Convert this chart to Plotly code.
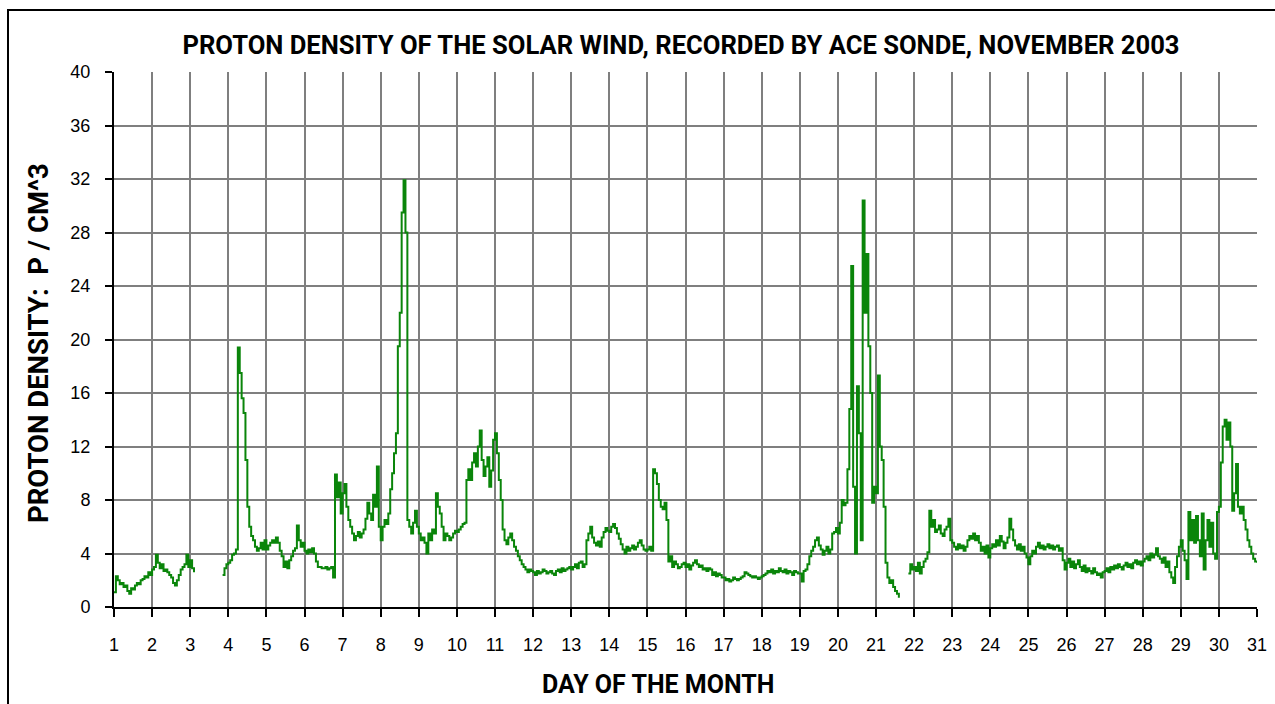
import plotly.graph_objects as go

# Proton density, 20 readings per day (0.05-day steps); None = data gap
day01 = [1.1, 2.3, 2.0, 1.7, 1.8, 1.5, 1.6, 1.2, 1.0, 1.4, 1.3, 1.6, 1.8, 1.7, 2.0, 2.1, 2.3, 2.2, 2.6, 2.4]
day02 = [2.8, 3.0, 3.9, 3.3, 2.9, 3.2, 2.7, 2.8, 2.6, 2.4, 2.2, 1.8, 1.6, 2.0, 2.4, 2.8, 3.0, 3.2, 3.9, 3.0]
day03 = [3.5, 2.9, 2.6, None, None, None, None, None, None, None, None, None, None, None, None, None, None, 2.4, 2.9, 3.2]
day04 = [3.3, 3.5, 3.9, 4.0, 4.3, 19.4, 17.5, 15.6, 14.5, 11.0, 7.5, 6.0, 5.3, 5.0, 4.5, 4.2, 4.4, 4.8, 4.3, 5.0]
day05 = [4.3, 4.6, 4.8, 5.0, 4.8, 5.2, 4.8, 4.2, 3.8, 3.0, 3.4, 2.9, 3.5, 3.8, 4.2, 4.4, 6.1, 5.0, 4.5, 4.8]
day06 = [4.2, 4.0, 4.3, 4.1, 4.4, 4.0, 3.4, 3.0, 3.0, 2.9, 2.9, 3.0, 2.8, 2.9, 3.0, 2.2, 9.9, 8.2, 9.3, 7.0]
day07 = [8.5, 9.2, 7.5, 6.5, 6.0, 5.5, 5.0, 5.3, 5.6, 5.2, 5.5, 5.8, 6.6, 7.8, 7.0, 6.5, 8.4, 7.5, 10.5, 6.0]
day08 = [5.0, 6.0, 6.5, 6.2, 7.0, 8.8, 10.0, 11.5, 13.0, 19.5, 22.0, 29.5, 31.9, 28.0, 6.5, 6.0, 5.5, 6.3, 7.2, 6.0]
day09 = [5.5, 5.0, 5.2, 4.8, 4.0, 5.5, 5.0, 5.8, 5.5, 8.5, 7.5, 7.0, 6.0, 5.0, 5.5, 5.3, 5.0, 5.2, 5.5, 5.7]
day10 = [5.6, 5.8, 6.0, 6.2, 6.3, 9.5, 10.3, 9.5, 10.8, 11.5, 10.5, 12.0, 13.2, 11.0, 9.8, 10.5, 11.2, 9.0, 10.2, 12.5]
day11 = [13.0, 11.5, 9.5, 8.0, 5.8, 5.0, 4.7, 5.2, 5.5, 5.0, 4.5, 4.2, 3.8, 3.5, 3.2, 3.0, 2.8, 2.6, 2.8, 2.7]
day12 = [2.6, 2.4, 2.7, 2.5, 2.6, 2.8, 2.7, 2.5, 2.6, 2.7, 2.5, 2.4, 2.7, 2.8, 2.6, 2.9, 2.7, 2.8, 2.9, 3.0]
day13 = [2.8, 3.0, 3.2, 2.9, 3.3, 3.4, 3.0, 3.2, 5.0, 5.5, 6.0, 5.2, 4.8, 4.6, 4.9, 4.5, 5.2, 5.6, 5.9, 5.7]
day14 = [5.6, 6.0, 6.2, 5.9, 5.5, 5.1, 4.7, 4.3, 4.0, 4.5, 4.2, 4.4, 4.6, 4.3, 4.5, 4.8, 5.0, 4.6, 4.3, 4.2]
day15 = [4.3, 4.5, 4.2, 10.3, 10.0, 9.2, 8.0, 7.5, 7.3, 7.8, 6.5, 3.4, 3.8, 3.0, 3.4, 3.2, 2.9, 3.0, 3.2, 3.3]
day16 = [3.0, 3.2, 2.8, 3.1, 3.3, 3.5, 3.2, 3.0, 3.1, 2.8, 2.9, 2.7, 2.9, 2.8, 2.4, 2.6, 2.3, 2.5, 2.4, 2.2]
day17 = [2.2, 2.0, 2.1, 1.9, 2.0, 2.2, 2.1, 2.0, 2.1, 2.2, 2.3, 2.6, 2.5, 2.4, 2.3, 2.2, 2.3, 2.2, 2.1, 2.2]
day18 = [2.3, 2.4, 2.5, 2.7, 2.6, 2.8, 2.5, 2.7, 2.6, 2.9, 2.7, 2.6, 2.8, 2.5, 2.7, 2.6, 2.4, 2.7, 2.6, 2.5]
day19 = [2.5, 1.9, 2.7, 2.8, 3.2, 3.8, 4.2, 4.5, 5.0, 5.2, 4.6, 4.3, 3.9, 4.2, 4.5, 4.0, 4.3, 5.5, 5.6, 5.9]
day20 = [5.5, 6.3, 8.0, 7.6, 7.8, 10.3, 14.8, 25.5, 9.0, 4.0, 16.5, 13.0, 5.0, 30.4, 22.0, 26.4, 19.5, 16.0, 7.8, 9.0]
day21 = [8.5, 17.3, 12.0, 11.0, 7.5, 3.3, 2.2, 1.8, 2.0, 1.5, 1.2, 1.0, 0.7, None, None, None, None, 2.5, 3.2, 2.8]
day22 = [3.0, 2.7, 3.3, 2.5, 3.0, 3.4, 3.6, 4.1, 7.2, 6.0, 6.5, 5.6, 5.8, 6.1, 5.5, 5.3, 5.8, 6.0, 6.6, 5.0]
day23 = [4.8, 4.5, 4.3, 4.7, 4.4, 4.6, 4.2, 4.5, 5.0, 5.3, 5.1, 5.5, 5.0, 5.3, 4.8, 4.2, 4.5, 4.0, 4.6, 3.7]
day24 = [4.4, 4.7, 4.5, 5.0, 4.6, 5.3, 4.9, 4.4, 4.8, 5.2, 6.6, 5.8, 5.0, 4.6, 4.3, 4.7, 4.2, 4.5, 4.0, 3.7]
day25 = [3.2, 3.8, 4.2, 4.0, 4.5, 4.8, 4.4, 4.6, 4.3, 4.5, 4.7, 4.4, 4.6, 4.3, 4.5, 4.6, 4.2, 4.4, 3.5, 2.8]
day26 = [3.3, 3.6, 3.0, 3.4, 2.9, 3.2, 3.5, 3.0, 2.7, 3.1, 2.6, 2.9, 2.7, 2.5, 2.9, 2.6, 2.4, 2.5, 2.2, 2.6]
day27 = [2.7, 2.9, 2.6, 3.0, 2.8, 3.1, 2.9, 3.2, 3.0, 2.8, 3.1, 3.3, 3.0, 3.2, 2.9, 3.3, 3.5, 3.2, 3.4, 3.1]
day28 = [3.4, 3.6, 3.8, 3.5, 4.0, 3.7, 3.9, 4.4, 3.8, 3.6, 3.3, 3.7, 3.0, 3.4, 2.6, 2.2, 1.8, 3.0, 3.8, 4.5]
day29 = [5.0, 4.2, 3.5, 2.1, 7.1, 5.0, 6.5, 4.8, 6.8, 5.0, 3.8, 7.0, 2.8, 5.0, 6.5, 4.5, 6.3, 4.0, 3.6, 7.1]
day30 = [7.5, 10.8, 13.5, 14.0, 12.5, 13.8, 12.0, 7.2, 8.5, 10.7, 7.5, 7.0, 7.5, 6.5, 5.8, 5.0, 4.5, 4.0, 3.6, 3.4]
day31_start = [3.3]

days = [day01, day02, day03, day04, day05, day06, day07, day08, day09, day10,
        day11, day12, day13, day14, day15, day16, day17, day18, day19, day20,
        day21, day22, day23, day24, day25, day26, day27, day28, day29, day30]
readings_per_day = 20

x_ticks = list(range(1, 32))
y_ticks = list(range(0, 41, 4))

times, dens = [], []
for d, vals in enumerate(days, start=1):
    for k, v in enumerate(vals):
        times.append(d + k / readings_per_day)
        dens.append(v)
times.append(31.0)
dens.append(day31_start[0])

fig = go.Figure()
fig.add_trace(go.Scatter(
    x=times, y=dens, mode="lines", line=dict(color="#0a850a", width=2.0, shape="hv"),
    connectgaps=False, hoverinfo="x+y", showlegend=False,
))

L, R, T, B = 114, 1257, 72, 607
W, H = 1275, 704
pw, ph = R - L, B - T

def px(xp):
    return (xp - L) / pw

def py(yp):
    return (B - yp) / ph

headfont = "Roboto, Liberation Sans, Arial, sans-serif"
tickfont = dict(family="Liberation Sans, Arial, sans-serif", size=18, color="black")

fig.update_layout(
    width=W, height=H,
    margin=dict(l=L, r=W - R, t=T, b=H - B, autoexpand=False),
    paper_bgcolor="white", plot_bgcolor="white",
    title=dict(text="PROTON DENSITY OF THE SOLAR WIND, RECORDED BY ACE SONDE, NOVEMBER 2003",
               font=dict(family=headfont, size=25.6, color="black", weight="bold"),
               x=px(681), xref="paper", xanchor="center",
               y=1 - 45 / H, yref="container", yanchor="middle"),
    xaxis=dict(range=[1, 31], tickvals=x_ticks, ticktext=[str(t) for t in x_ticks],
               showgrid=True, gridcolor="#7f7f7f", gridwidth=1.6,
               showline=True, linecolor="black", linewidth=2,
               ticks="outside", ticklen=8, tickwidth=1.5, tickcolor="black",
               tickfont=tickfont, ticklabelstandoff=12, zeroline=False, fixedrange=True),
    yaxis=dict(range=[0, 40], tickvals=y_ticks,
               showgrid=True, gridcolor="#7f7f7f", gridwidth=1.6,
               showline=True, linecolor="black", linewidth=2,
               ticks="outside", ticklen=7, tickwidth=1.5, tickcolor="black",
               tickfont=tickfont, ticklabelstandoff=11, zeroline=False, fixedrange=True),
    annotations=[
        dict(text="PROTON DENSITY:\u00a0\u00a0P / CM^3", textangle=-90,
             xref="paper", yref="paper", x=px(38), y=py(343),
             xanchor="center", yanchor="middle", showarrow=False,
             font=dict(family=headfont, size=27.5, color="black", weight="bold")),
        dict(text="DAY OF THE MONTH",
             xref="paper", yref="paper", x=px(658), y=py(684),
             xanchor="center", yanchor="middle", showarrow=False,
             font=dict(family=headfont, size=25, color="black", weight="bold")),
    ],
    shapes=[
        dict(type="rect", xref="paper", yref="paper",
             x0=px(8), x1=px(1290), y0=py(720), y1=py(10),
             line=dict(color="black", width=2), fillcolor="rgba(0,0,0,0)", layer="below"),
    ],
)

fig.write_html("out.html", config={"displayModeBar": False},
               post_script="document.body.style.margin='0';")
